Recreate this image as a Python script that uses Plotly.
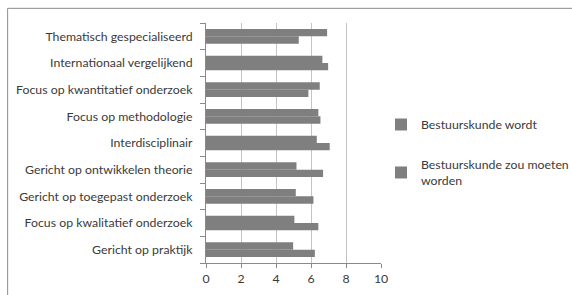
import plotly.graph_objects as go

categories = [
    "Gericht op praktijk",
    "Focus op kwalitatief onderzoek",
    "Gericht op toegepast onderzoek",
    "Gericht op ontwikkelen theorie",
    "Interdisciplinair",
    "Focus op methodologie",
    "Focus op kwantitatief onderzoek",
    "Internationaal vergelijkend",
    "Thematisch gespecialiseerd",
]
wordt = [6.22, 6.42, 6.14, 6.69, 7.07, 6.54, 5.85, 6.98, 5.30]
zou_moeten = [4.98, 5.05, 5.13, 5.17, 6.33, 6.42, 6.50, 6.65, 6.92]
series_names = ["Bestuurskunde wordt", "Bestuurskunde zou moeten<br>worden"]
x_ticks = [0, 2, 4, 6, 8, 10]

W, H = 572, 295
L, R, T, B = 205.7, 381.0, 22.7, 263.3

fig = go.Figure()
fig.add_trace(go.Bar(y=categories, x=wordt, orientation="h", name=series_names[0],
                     marker=dict(color="#7f7f7f", line=dict(width=0)), legendgroup="a"))
fig.add_trace(go.Bar(y=categories, x=zou_moeten, orientation="h", name=series_names[1],
                     marker=dict(color="#7f7f7f", line=dict(width=0)), legendgroup="b"))

font = dict(family="Lato, 'Open Sans', sans-serif", size=12.3, color="#3a3a3a")

fig.update_layout(
    width=W, height=H,
    margin=dict(l=L, r=W - R, t=T, b=H - B, pad=0, autoexpand=False),
    paper_bgcolor="white", plot_bgcolor="white",
    barmode="group", bargap=0.45, bargroupgap=0,
    font=font,
    showlegend=True,
    legend=dict(xref="container", yref="container", x=381 / W, xanchor="left",
                y=1 - 110 / H, yanchor="top",
                font=dict(size=12.3, color="#3a3a3a"), tracegroupgap=21,
                bgcolor="rgba(0,0,0,0)"),
    xaxis=dict(range=[0, 10], tickvals=x_ticks, showgrid=True, gridcolor="#c4c4c4", gridwidth=1,
               zeroline=False, showline=True, linecolor="#8a8a8a", linewidth=1,
               ticks="outside", ticklen=4, tickcolor="#8a8a8a", fixedrange=True,
               automargin=False),
    yaxis=dict(type="category", categoryorder="array", categoryarray=categories,
               showgrid=False, zeroline=False, showline=True, linecolor="#8a8a8a", linewidth=1,
               ticks="outside", ticklen=5, tickcolor="#8a8a8a", tickson="boundaries",
               ticklabelstandoff=10, fixedrange=True, automargin=False),
    shapes=[
        dict(type="line", xref="paper", yref="paper",
             x0=(7 - L) / (R - L), x1=(W + 10 - L) / (R - L),
             y0=1 + (T - 8) / (B - T), y1=1 + (T - 8) / (B - T),
             line=dict(color="#8c8c8c", width=1)),
        dict(type="line", xref="paper", yref="paper",
             x0=(7 - L) / (R - L), x1=(7 - L) / (R - L),
             y0=1 + (T - 8) / (B - T), y1=-(H + 10 - B) / (B - T),
             line=dict(color="#8c8c8c", width=1)),
    ],
)

fig.write_html("out.html", config={"displayModeBar": False},
               post_script="document.body.style.margin='0';")
